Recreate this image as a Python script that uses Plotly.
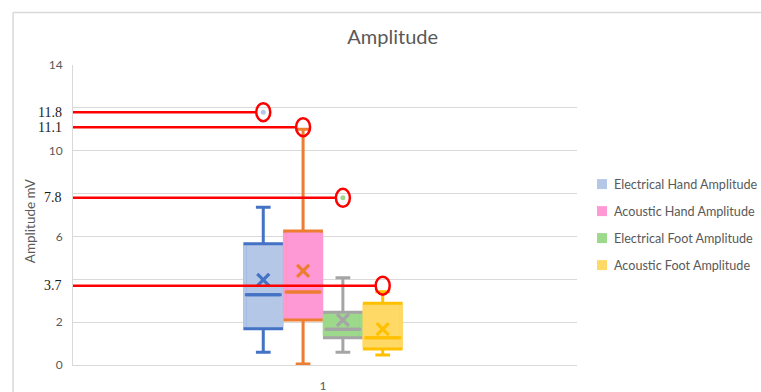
import plotly.graph_objects as go

# ---- data ----
series_names = ["Electrical Hand Amplitude", "Acoustic Hand Amplitude",
                "Electrical Foot Amplitude", "Acoustic Foot Amplitude"]
lower_fence = [0.59, 0.05, 0.59, 0.47]
q1_vals = [1.69, 2.10, 1.27, 0.75]
median_vals = [3.28, 3.41, 1.67, 1.27]
q3_vals = [5.66, 6.25, 2.46, 2.88]
upper_fence = [7.36, 11.0, 4.07, 3.42]
mean_vals = [3.97, 4.39, 2.10, 1.67]
outlier_vals = [11.8, None, 7.8, None]          # plotted outlier points
marked_vals = [11.8, 11.1, 7.8, 3.7]            # circled / highlighted values
category = "1"
y_tickvals = [0, 2, 4, 6, 8, 10, 12, 14]
y_ticktext = ["0", "2", "", "6", "", "10", "", "14"]
y_title = "Amplitude mV"
chart_title = "Amplitude"

# ---- styles ----
fill_colors = ["#B4C7E7", "#FF99D6", "#9DD98B", "#FFD966"]
line_colors = ["#4472C4", "#ED7D31", "#A5A5A5", "#FFC000"]
FONT = "Lato, 'Open Sans', sans-serif"
GRAY = "#595959"
RED = "#FF0000"

spacing = 0.079
box_w = 0.073
xr = [0.504, 1.504]
positions = [1 + (i - 1.5) * spacing for i in range(len(series_names))]
px_y = 14 / 300.0  # data units per pixel (y)

fig = go.Figure()
for i, name in enumerate(series_names):
    fig.add_trace(go.Box(
        name=name, x=[positions[i]],
        q1=[q1_vals[i]], median=[median_vals[i]], q3=[q3_vals[i]],
        lowerfence=[lower_fence[i]], upperfence=[upper_fence[i]],
        fillcolor=fill_colors[i], line=dict(color=line_colors[i], width=3),
        width=box_w, whiskerwidth=0.4, boxpoints=False,
        showlegend=False, hoverinfo="skip",
    ))
    # hide vertical box edges (Excel style: only quartile lines drawn)
    xl = positions[i] - box_w / 2
    xrr = positions[i] + box_w / 2
    d = 1.6 * px_y
    fig.add_trace(go.Scatter(
        x=[xl, xl, None, xrr, xrr],
        y=[q1_vals[i] + d, q3_vals[i] - d, None, q1_vals[i] + d, q3_vals[i] - d],
        mode="lines", line=dict(color=fill_colors[i], width=3.6),
        showlegend=False, hoverinfo="skip"))
    # median line redrawn on top
    fig.add_trace(go.Scatter(
        x=[xl, xrr], y=[median_vals[i], median_vals[i]],
        mode="lines", line=dict(color=line_colors[i], width=3),
        showlegend=False, hoverinfo="skip"))

for i, name in enumerate(series_names):
    fig.add_trace(go.Scatter(
        x=[positions[i]], y=[mean_vals[i]], mode="markers",
        marker=dict(symbol="x-thin", size=12,
                    line=dict(color=line_colors[i], width=3.2)),
        showlegend=False, hoverinfo="skip"))
    if outlier_vals[i] is not None:
        fig.add_trace(go.Scatter(
            x=[positions[i]], y=[outlier_vals[i]], mode="markers",
            marker=dict(size=5, color=fill_colors[i]),
            showlegend=False, hoverinfo="skip"))

half_w_units = 7 / 504
for i, v in enumerate(marked_vals):
    fig.add_shape(type="line", xref="x", yref="y",
                  x0=xr[0], x1=positions[i] - half_w_units, y0=v, y1=v,
                  line=dict(color=RED, width=2.5))
    fig.add_shape(type="circle", xref="x", yref="y",
                  xsizemode="pixel", ysizemode="pixel",
                  xanchor=positions[i], yanchor=v,
                  x0=-7, x1=7, y0=-9, y1=9,
                  line=dict(color=RED, width=2.5))
    fig.add_annotation(xref="paper", yref="y", x=0, y=v, xanchor="right",
                       xshift=-9, text=str(v), showarrow=False,
                       font=dict(family="Liberation Serif, serif", size=14,
                                 color="#1a1a1a"))

# manual legend (Excel style, square swatches)
leg_x = 1.0397
leg_y0 = 0.603
leg_step = 0.09
for i, name in enumerate(series_names):
    yy = leg_y0 - leg_step * i
    fig.add_shape(type="rect", xref="paper", yref="paper",
                  xsizemode="pixel", ysizemode="pixel",
                  xanchor=leg_x, yanchor=yy, x0=0, x1=10, y0=-5, y1=5,
                  fillcolor=fill_colors[i], line=dict(width=0))
    fig.add_annotation(xref="paper", yref="paper", x=leg_x, y=yy,
                       xanchor="left", yanchor="middle", xshift=15,
                       text=name, showarrow=False,
                       font=dict(family=FONT, size=12.6, color=GRAY))

# y-axis title (placed like Excel, slightly below plot centre)
fig.add_annotation(xref="paper", yref="paper", x=-0.085, y=0.48,
                   xanchor="center", yanchor="middle", textangle=-90,
                   text=y_title, showarrow=False,
                   font=dict(family=FONT, size=13.5, color=GRAY))

# chart area border (top and left edges visible in the crop)
border_left = -0.119
border_top = 1.175
fig.add_shape(type="line", xref="paper", yref="paper",
              x0=border_left, x1=1.365, y0=border_top, y1=border_top,
              line=dict(color="#D9D9D9", width=1.5), layer="below")
fig.add_shape(type="line", xref="paper", yref="paper",
              x0=border_left, x1=border_left, y0=-0.5, y1=border_top,
              line=dict(color="#D9D9D9", width=1.5), layer="below")

fig.update_layout(
    width=761, height=392,
    margin=dict(l=73, r=184, t=65, b=27),
    paper_bgcolor="white", plot_bgcolor="white",
    title=dict(text=chart_title, x=0.516, xref="container", xanchor="center",
               y=0.905, yref="container", yanchor="middle",
               font=dict(family=FONT, size=20, color=GRAY)),
    font=dict(family=FONT, color=GRAY, size=12),
    showlegend=False,
    xaxis=dict(range=xr, tickvals=[1], ticktext=[category],
               showgrid=False, zeroline=False, showline=True,
               linecolor="#D9D9D9", linewidth=1, ticks="",
               ticklabelstandoff=10, automargin=False,
               tickfont=dict(size=12, color=GRAY)),
    yaxis=dict(range=[0, 14], tickvals=y_tickvals, ticktext=y_ticktext,
               showgrid=True, gridcolor="#D9D9D9", gridwidth=1,
               zeroline=False, showline=True, linecolor="#D9D9D9",
               ticks="", ticklabelstandoff=7, automargin=False,
               tickfont=dict(size=12, color=GRAY)),
)

fig.write_html(
    "out.html",
    config={"displayModeBar": False},
    post_script="document.body.style.margin='0';"
                "document.documentElement.style.overflow='hidden';",
)
